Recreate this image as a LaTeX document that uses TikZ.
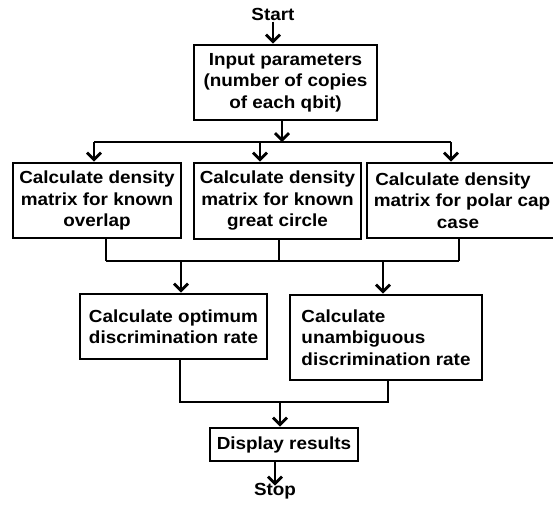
\documentclass[tikz,border=0pt]{standalone}
\usepackage{fontspec}
\setmainfont{Liberation Sans}[FakeStretch=1.08]
\usetikzlibrary{arrows.meta}

\begin{document}
\begin{tikzpicture}[x=1pt, y=-1pt, line width=2.8pt, font=\fontsize{17.5}{21.5}\selectfont\bfseries, >={Straight Barb[length=7pt,width=14pt]}]

    % Styles
    \tikzstyle{process} = [rectangle, draw, inner sep=4pt, align=center]
    \tikzstyle{terminal} = [inner sep=0pt]
    \tikzstyle{connection} = [->]
    \tikzstyle{link} = [-]

    \useasboundingbox (0,0) rectangle (553,504);

    % Start and Stop
    \node[terminal] (start) at (273,14) {Start};
    \node[terminal] (stop) at (275,491) {Stop};

    % Input
    \node[process, minimum width=183, minimum height=75] (input) at (285.5,82.5) {Input parameters\\(number of copies\\of each qbit)};

    % Density matrices
    \node[process, minimum width=168, minimum height=75] (dens1) at (97,200.5) {Calculate density\\matrix for known\\overlap};
    \node[process, minimum width=167, minimum height=76] (dens2) at (277.5,201) {Calculate density\\matrix for known\\great circle};
    \node[process, minimum width=190, minimum height=75] (dens3) at (462,200.5) {Calculate density\hspace*{18pt}\\matrix for polar cap\\case\hspace*{8pt}};

    % Discrimination rates
    \node[process, minimum width=187, minimum height=65] (opt) at (173.5,326.5) {Calculate optimum\\discrimination rate};
    \node[process, minimum width=192, minimum height=85, align=left] (unamb) at (386,337.5) {Calculate\\unambiguous\\discrimination rate};

    % Output
    \node[process, minimum width=148, minimum height=33] (display) at (284,444.5) {Display results};

    % Junctions
    \coordinate (split) at (282,142);
    \coordinate (b1) at (94,142);
    \coordinate (b2) at (260,142);
    \coordinate (b3) at (451,142);
    \coordinate (c1) at (106,261);
    \coordinate (c2) at (279,261);
    \coordinate (c3) at (459,261);
    \coordinate (d1) at (181,261);
    \coordinate (d2) at (383,261);
    \coordinate (e1) at (180,402);
    \coordinate (e2) at (388,402);
    \coordinate (e3) at (280,402);

    % Start to input
    \draw[connection] (start) -- (start |- input.north);
    \draw[connection] (input.south -| split) -- (split);

    % Input to density matrices
    \draw[link] (b1) -- (b3);
    \foreach \i in {1,2,3}
        \draw[connection] (b\i) -- (b\i |- dens\i.north);

    % Density matrices to discrimination rates
    \foreach \i in {1,2,3}
        \draw[link] (c\i |- dens\i.south) -- (c\i);
    \draw[link] (c1) -- (c3);
    \draw[connection] (d1) -- (d1 |- opt.north);
    \draw[connection] (d2) -- (d2 |- unamb.north);

    % Discrimination rates to output
    \draw[link] (e1 |- opt.south) -- (e1) -- (e2) -- (e2 |- unamb.south);
    \draw[connection] (e3) -- (e3 |- display.north);
    \draw[connection, shorten >=-4pt] (display.south -| stop) -- (stop.north);

\end{tikzpicture}
\end{document}
